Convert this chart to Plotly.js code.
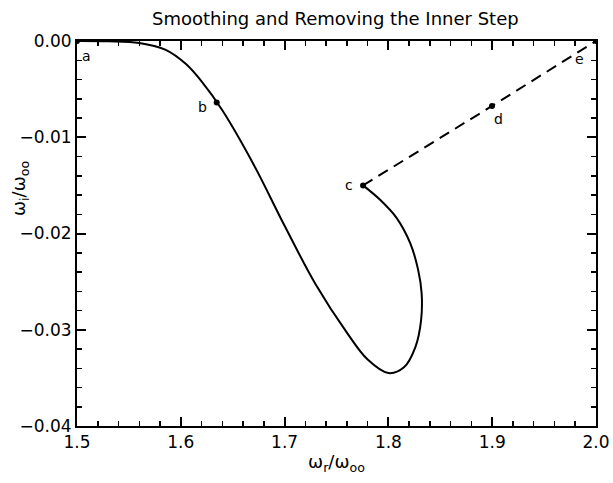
<!DOCTYPE html>
<html>
<head>
<meta charset="utf-8">
<script src="https://cdn.plot.ly/plotly-3.0.1.min.js"></script>
<style>html,body{margin:0;padding:0;background:#fff;}#chart{width:613px;height:483px;}</style>
</head>
<body>
<div id="chart"></div>
<script>
// Solid curve (smoothed path a -> b -> minimum -> c)
const curveX = [1.500, 1.530, 1.560, 1.585, 1.605, 1.620, 1.640, 1.670, 1.700, 1.730, 1.760, 1.780, 1.800, 1.815, 1.826, 1.8315, 1.832, 1.8285, 1.821, 1.808, 1.792, 1.7756];
const curveY = [0, -0.00003, -0.0002, -0.0009, -0.0024, -0.0042, -0.0072, -0.0128, -0.0192, -0.0253, -0.0303, -0.0331, -0.0345, -0.0339, -0.0318, -0.0290, -0.0262, -0.0237, -0.0210, -0.0184, -0.0165, -0.0150];

// Labelled points
const ptLabel = ['a', 'b', 'c', 'd', 'e'];
const ptX = [1.5, 1.6346, 1.7756, 1.8998, 2.0];
const ptY = [0, -0.0064, -0.0150, -0.00675, 0];
// label offsets in pixels (presentation only)
const ptShiftX = [9, -14, -14, 7, -17];
const ptShiftY = [-15, -4, 0, -13, -18];

const font = 'DejaVu Sans, Arial, sans-serif';

const traces = [
  {x: curveX, y: curveY, mode: 'lines', type: 'scatter',
   line: {color: '#000', width: 2, shape: 'spline', smoothing: 1}, hoverinfo: 'skip'},
  {x: ptX.slice(2), y: ptY.slice(2), mode: 'lines', type: 'scatter',
   line: {color: '#000', width: 2, dash: '11px,7px'}, hoverinfo: 'skip'},
  {x: ptX, y: ptY, mode: 'markers', type: 'scatter',
   marker: {color: '#000', size: 6}, hoverinfo: 'skip'}
];

const annotations = ptLabel.map((t, i) => ({
  x: ptX[i], y: ptY[i], xref: 'x', yref: 'y', text: t, showarrow: false,
  xshift: ptShiftX[i], yshift: ptShiftY[i],
  font: {family: font, size: 14, color: '#000'}
}));
// y-axis title (placed slightly above the plot centre, as in the reference)
annotations.push({
  xref: 'paper', yref: 'paper', x: -0.11, y: 0.618, xanchor: 'center', yanchor: 'middle',
  text: 'ω<sub>i</sub>/ω<sub>oo</sub>', textangle: -90, showarrow: false,
  font: {family: font, size: 18, color: '#000'}
});

const axisCommon = {
  showline: true, linecolor: '#000', linewidth: 2, mirror: 'ticks',
  ticks: 'inside', ticklen: 9, tickwidth: 2, tickcolor: '#000',
  showgrid: false, zeroline: false,
  tickfont: {family: font, size: 17, color: '#000'}
};

const layout = {
  width: 613, height: 483,
  margin: {l: 77, r: 17, t: 41, b: 57},
  paper_bgcolor: '#fff', plot_bgcolor: '#fff',
  showlegend: false,
  title: {text: 'Smoothing and Removing the Inner Step', x: 0.547, xanchor: 'center', y: 0.975, yanchor: 'top',
          font: {family: font, size: 18, color: '#000'}},
  xaxis: Object.assign({}, axisCommon, {
    range: [1.5, 2.0], dtick: 0.1, tick0: 1.5, tickformat: '.1f',
    minor: {dtick: 0.02, ticks: 'inside', ticklen: 5, tickwidth: 1.5, tickcolor: '#000', showgrid: false},
    title: {text: 'ω<sub>r</sub>/ω<sub>oo</sub>', font: {family: font, size: 18, color: '#000'}, standoff: 4}
  }),
  yaxis: Object.assign({}, axisCommon, {
    range: [-0.04, 0], dtick: 0.01, tick0: 0, tickformat: '.2f',
    minor: {dtick: 0.002, ticks: 'inside', ticklen: 5, tickwidth: 1.5, tickcolor: '#000', showgrid: false}
  }),
  annotations: annotations
};

Plotly.newPlot('chart', traces, layout, {displayModeBar: false, staticPlot: true});
</script>
</body>
</html>
